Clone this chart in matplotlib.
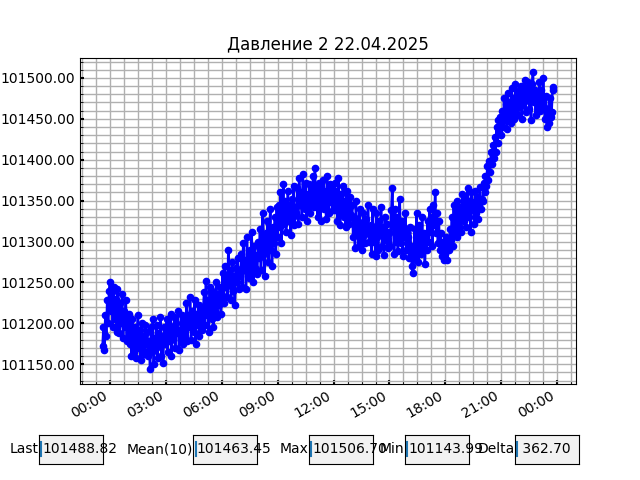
import matplotlib
matplotlib.use("Agg")
import matplotlib.pyplot as plt
import matplotlib.dates as mdates
from matplotlib.ticker import AutoMinorLocator, FormatStrFormatter
from matplotlib.widgets import TextBox
import numpy as np
import pandas as pd

title = "Давление 2 22.04.2025"
start_time = "2025-04-21 23:36"
step = "3min"

# pressure readings, one row per hour
pressure = [
    101172, 101195, 101168, 101210, 101185, 101228, 101200, 101240,  # 23:36-23:57
    101250, 101215, 101238, 101195, 101245, 101205, 101230, 101190, 101242, 101210,
    101188, 101225, 101200, 101236, 101182, 101215, 101195, 101228, 101178, 101205,  # 00
    101212, 101175, 101198, 101160, 101205, 101180, 101165, 101195, 101158, 101188,
    101210, 101170, 101192, 101155, 101200, 101168, 101185, 101162, 101198, 101175,  # 01
    101190, 101160, 101178, 101143.994, 101195, 101165, 101205, 101150, 101182, 101170,
    101198, 101158, 101188, 101172, 101208, 101160, 101185, 101152, 101195, 101175,  # 02
    101185, 101205, 101165, 101198, 101178, 101212, 101160, 101195, 101182, 101208,
    101170, 101200, 101188, 101215, 101168, 101192, 101180, 101210, 101175, 101198,  # 03
    101205, 101185, 101225, 101178, 101210, 101195, 101232, 101180, 101215, 101200,
    101190, 101228, 101175, 101212, 101198, 101222, 101185, 101205, 101218, 101192,  # 04
    101215, 101238, 101198, 101252, 101210, 101228, 101190, 101245, 101220, 101205,
    101240, 101195, 101232, 101215, 101250, 101208, 101236, 101222, 101245, 101212,  # 05
    101235, 101262, 101225, 101270, 101245, 101255, 101232, 101290, 101248, 101265,
    101228, 101275, 101240, 101258, 101222, 101268, 101250, 101280, 101242, 101262,  # 06
    101258, 101285, 101245, 101298, 101265, 101278, 101242, 101305, 101270, 101255,
    101290, 101262, 101312, 101275, 101250, 101295, 101268, 101283, 101260, 101300,  # 07
    101280, 101315, 101265, 101300, 101335, 101285, 101258, 101310, 101292, 101325,
    101275, 101305, 101340, 101290, 101270, 101318, 101298, 101330, 101285, 101342,  # 08
    101305, 101345, 101318, 101360, 101298, 101338, 101370, 101322, 101350, 101312,
    101335, 101362, 101325, 101345, 101308, 101352, 101330, 101368, 101320, 101342,  # 09
    101335, 101365, 101322, 101378, 101345, 101360, 101330, 101382, 101350, 101340,
    101372, 101325, 101358, 101345, 101370, 101335, 101365, 101348, 101380, 101342,  # 10
    101390, 101345, 101365, 101330, 101372, 101352, 101325, 101368, 101345, 101375,
    101340, 101362, 101328, 101380, 101350, 101335, 101370, 101348, 101365, 101338,  # 11
    101355, 101372, 101338, 101362, 101325, 101378, 101342, 101320, 101358, 101335,
    101368, 101330, 101350, 101318, 101362, 101328, 101345, 101322, 101355, 101332,  # 12
    101345, 101305, 101330, 101292, 101350, 101310, 101325, 101295, 101340, 101302,
    101320, 101290, 101335, 101308, 101298, 101328, 101312, 101345, 101300, 101318,  # 13
    101320, 101285, 101340, 101300, 101315, 101282, 101335, 101305, 101290, 101325,
    101310, 101342, 101295, 101318, 101284, 101330, 101302, 101322, 101292, 101312,  # 14
    101310, 101295, 101338, 101366, 101320, 101285, 101340, 101300, 101330, 101288,
    101315, 101352, 101298, 101325, 101282, 101318, 101305, 101335, 101290, 101312,  # 15
    101305, 101280, 101318, 101295, 101270, 101262, 101290, 101315, 101278, 101335,
    101295, 101275, 101320, 101300, 101285, 101330, 101290, 101310, 101272, 101305,  # 16
    101290, 101325, 101300, 101340, 101312, 101330, 101295, 101345, 101320, 101360,
    101310, 101335, 101298, 101325, 101290, 101310, 101282, 101300, 101278, 101295,  # 17
    101285, 101305, 101278, 101298, 101290, 101315, 101302, 101330, 101295, 101345,
    101310, 101325, 101350, 101305, 101335, 101318, 101342, 101312, 101358, 101328,  # 18
    101325, 101355, 101318, 101345, 101365, 101330, 101350, 101312, 101360, 101338,
    101348, 101322, 101362, 101335, 101355, 101328, 101345, 101367, 101340, 101352,  # 19
    101350, 101372, 101360, 101380, 101368, 101392, 101375, 101398, 101385, 101410,
    101395, 101418, 101402, 101428, 101410, 101440, 101420, 101448, 101432, 101452,  # 20
    101430, 101460, 101440, 101475, 101448, 101468, 101438, 101482, 101455, 101470,
    101445, 101488, 101460, 101475, 101450, 101492, 101462, 101478, 101455, 101485,  # 21
    101465, 101490, 101450, 101482, 101470, 101498, 101458, 101488, 101475, 101495,
    101462, 101485, 101448, 101492, 101506.698, 101470, 101485, 101455, 101480, 101465,  # 22
    101478, 101495, 101460, 101485, 101470, 101500, 101465, 101450, 101478, 101440,
    101462, 101445, 101475, 101452, 101458, 101485.68, 101488.82,  # 23:00-23:48
]

times = pd.date_range(start_time, periods=len(pressure), freq=step)
values = np.array(pressure)

fig, ax = plt.subplots(figsize=(6.4, 4.8), dpi=100)
ax.plot(times, values, 'bo-', markersize=4.5, linewidth=1.8)
ax.set_title(title)

ax.xaxis.set_major_locator(mdates.HourLocator(byhour=range(0, 24, 3)))
ax.xaxis.set_major_formatter(mdates.DateFormatter('%H:%M'))
ax.xaxis.set_minor_locator(AutoMinorLocator())
ax.yaxis.set_minor_locator(AutoMinorLocator())
ax.yaxis.set_major_formatter(FormatStrFormatter('%.2f'))
ax.tick_params(which='both', direction='in')
ax.tick_params(which='major', length=3, width=1.5)
ax.grid(which='both', color='#b0b0b0', linewidth=1)
ax.set_axisbelow(True)
fig.autofmt_xdate()

last = values[-1]
mean10 = values[-10:].mean()
vmax = values.max()
vmin = values.min()
boxes = [
    ("Last", f"{last:.2f}", 0.061),
    ("Mean(10)", f"{mean10:.2f}", 0.302),
    ("Max", f"{vmax:.2f}", 0.483),
    ("Min", f"{vmin:.2f}", 0.633),
    ("Delta", f"{vmax - vmin:7.2f}", 0.805),
]
widgets = []
for label, txt, left in boxes:
    bax = fig.add_axes([left, 0.034, 0.1, 0.06])
    tb = TextBox(bax, label, initial=txt)
    bax.plot([0.035, 0.035], [0.25, 0.75], color='C0', lw=1.5, transform=bax.transAxes)
    widgets.append(tb)

fig.savefig("out.png", dpi=100)
